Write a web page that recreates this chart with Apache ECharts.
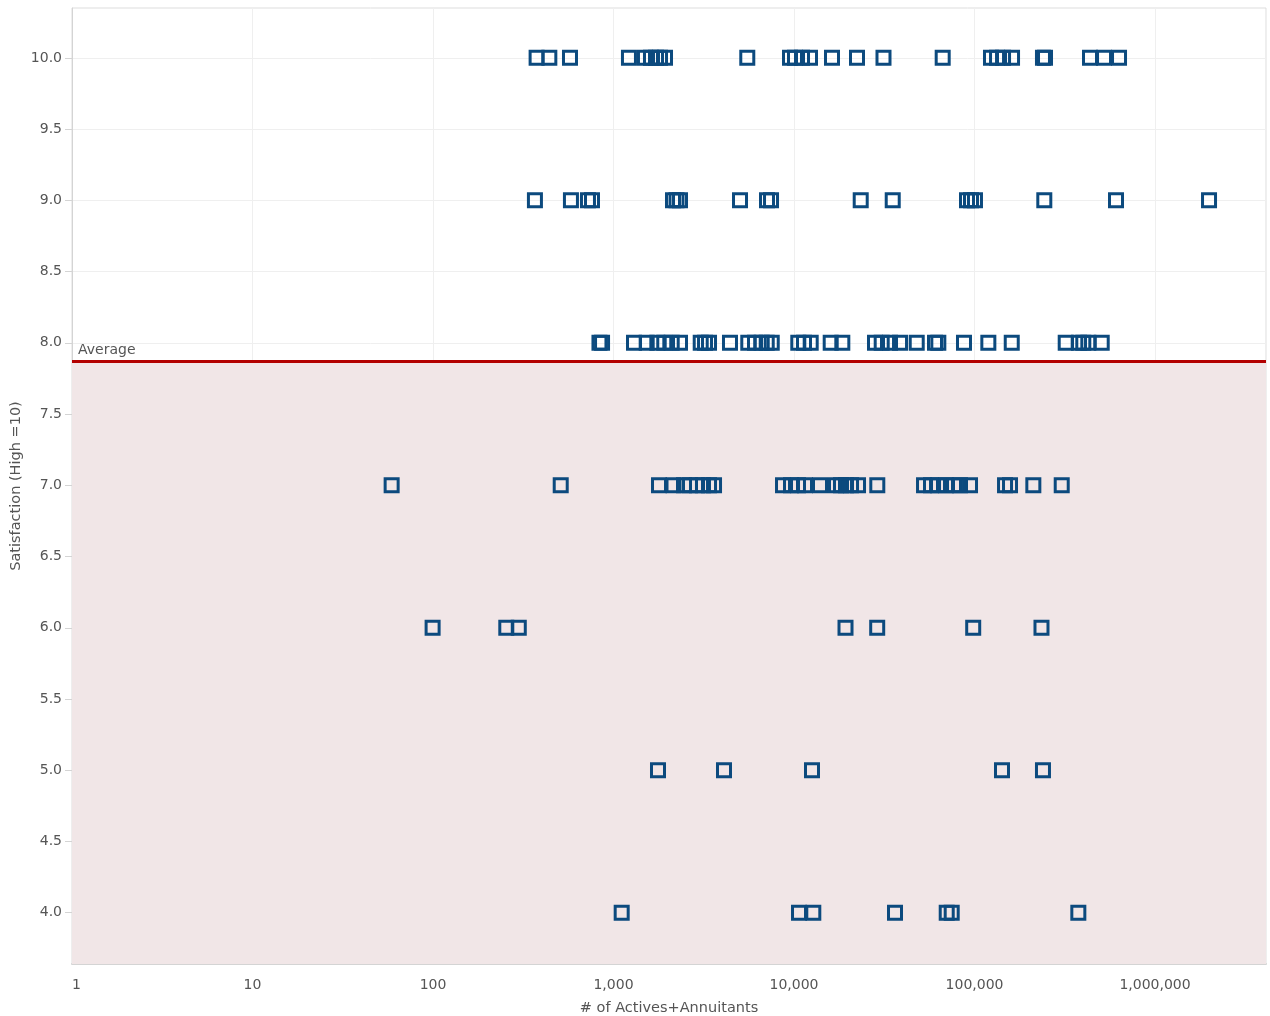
<!DOCTYPE html>
<html>
<head>
<meta charset="utf-8">
<script src="https://cdn.jsdelivr.net/npm/echarts@6/dist/echarts.min.js"></script>
<style>
    html, body { margin: 0; padding: 0; background: #fff; }
    #chartSatisfaction { width: 1270px; height: 1016px; }
</style>
</head>
<body>
<div id="chartSatisfaction"></div>
<script>
// # of actives+annuitants for each satisfaction score
const sat10 = [375, 441, 574, 1218, 1494, 1613, 1720, 1810, 1929, 5510, 9502, 10127, 11075, 12264, 16236, 22336, 31316, 66640, 123400, 133300, 143900, 161400, 239500, 245800, 436400, 521900, 631900]
const sat9 = [367, 581, 722, 760, 2136, 2234, 2336, 5022, 7087, 7459, 23420, 35230, 90870, 95630, 100600, 243600, 608000, 1992000]
const sat8 = [836, 864, 1299, 1527, 1749, 1911, 2101, 2336, 3042, 3214, 3382, 4419, 5581, 6080, 6624, 7061, 7527, 10563, 11360, 12374, 15970, 18520, 28100, 30610, 34030, 38670, 47850, 60420, 63030, 87450, 119300, 160800, 320100, 379300, 400600, 427200, 506700]
const sat7 = [59, 510, 1787, 2150, 2458, 2653, 2901, 3131, 3382, 3605, 8692, 9625, 10524, 11507, 13932, 17085, 18208, 19414, 20697, 22628, 28935, 52520, 57410, 62780, 69530, 76990, 83100, 94430, 147600, 157300, 211800, 304200]
const sat6 = [99.5, 254.7, 298.7, 19290, 28900, 98350, 235000]
const sat5 = [1764, 4094, 12580, 142000, 239500]
const sat4 = [1110, 10660, 12790, 36270, 70150, 74760, 376000]
const scoreGroups = [[10, sat10], [9, sat9], [8, sat8], [7, sat7], [6, sat6], [5, sat5], [4, sat4]]
const yTicks = [4, 4.5, 5, 5.5, 6, 6.5, 7, 7.5, 8, 8.5, 9, 9.5, 10]
const averageScore = 7.874

const points = []
scoreGroups.forEach(([score, values]) => {
    values.forEach(v => points.push([v, score]))
})

const textColor = '#555'
const fontFamily = '"DejaVu Sans", sans-serif'

let satisfactionChart = echarts.init(document.getElementById('chartSatisfaction'))
satisfactionChart.setOption({
    animation: false,
    backgroundColor: '#fff',
    textStyle: { fontFamily: fontFamily },
    grid: {
        left: 72,
        right: 4,
        top: 8,
        bottom: 52,
        outerBoundsMode: 'none',
        show: true,
        borderColor: '#dddddd',
        borderWidth: 1
    },
    xAxis: {
        type: 'log',
        logBase: 10,
        min: 1,
        max: 4120000,
        name: '# of Actives+Annuitants',
        nameLocation: 'middle',
        nameGap: 37,
        nameMoveOverlap: false,
        nameTextStyle: { color: textColor, fontSize: 14.5, fontFamily: fontFamily },
        axisLine: { show: true, lineStyle: { color: '#d4d4d4', width: 2 } },
        axisTick: { show: false },
        axisLabel: {
            color: textColor,
            fontSize: 14,
            fontFamily: fontFamily,
            margin: 14,
            alignMinLabel: 'left',
            showMaxLabel: false,
            formatter: function (value) {
                return Number(value).toLocaleString('en-US')
            }
        },
        splitLine: { show: true, lineStyle: { color: '#efefef', width: 1 } }
    },
    yAxis: {
        type: 'value',
        min: 3.64,
        max: 10.35,
        name: 'Satisfaction (High =10)',
        nameLocation: 'middle',
        nameGap: 48,
        nameMoveOverlap: false,
        nameTextStyle: { color: textColor, fontSize: 14.5, fontFamily: fontFamily },
        axisLine: { show: true, lineStyle: { color: '#d4d4d4', width: 1 } },
        axisTick: { show: true, length: 7, customValues: yTicks, lineStyle: { color: '#d4d4d4' } },
        axisLabel: {
            color: textColor,
            fontSize: 14,
            fontFamily: fontFamily,
            margin: 10,
            customValues: yTicks,
            formatter: function (value) {
                return Number(value).toFixed(1)
            }
        },
        splitLine: { show: true, lineStyle: { color: '#efefef', width: 1 } }
    },
    series: [{
        type: 'scatter',
        data: points,
        symbol: 'rect',
        symbolSize: 13,
        itemStyle: {
            color: 'rgba(0,0,0,0)',
            borderColor: '#0c4a7e',
            borderWidth: 3,
            opacity: 1
        },
        markArea: {
            silent: true,
            itemStyle: { color: '#f1e6e7' },
            data: [[{ yAxis: 3.64 }, { yAxis: averageScore }]]
        },
        markLine: {
            silent: true,
            symbol: 'none',
            lineStyle: { color: '#b30000', width: 3, type: 'solid' },
            label: {
                show: true,
                position: 'insideStartTop',
                formatter: 'Average',
                color: textColor,
                fontSize: 14,
                fontFamily: fontFamily,
                distance: [6, 4]
            },
            data: [{ yAxis: averageScore }]
        }
    }]
})
</script>
</body>
</html>
